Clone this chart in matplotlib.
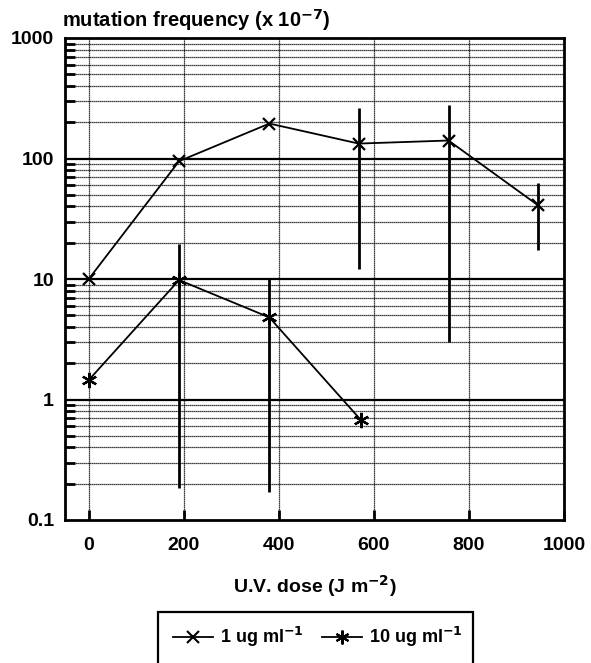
import matplotlib
matplotlib.use("Agg")
import matplotlib.pyplot as plt
from matplotlib.patches import Rectangle
from matplotlib.lines import Line2D
import numpy as np

plt.rcParams['font.family'] = ['Liberation Sans', 'DejaVu Sans']
plt.rcParams['font.weight'] = 'bold'
plt.rcParams['mathtext.default'] = 'bf'

# Series 1: 1 ug ml-1
dose1 = [0, 190, 380, 568, 757, 945]
freq1 = [10, 95, 195, 133, 141, 41]
err1_lo = [None, None, None, 12, 3.0, 17.5]
err1_hi = [None, None, None, 260, 277, 63]

# Series 2: 10 ug ml-1
dose2 = [0, 190, 380, 572]
freq2 = [1.45, 9.8, 4.8, 0.68]
err2_lo = [None, 0.185, 0.17, None]
err2_hi = [None, 19.6, 10, None]

xticks = [0, 200, 400, 600, 800, 1000]
yticks = [0.1, 1, 10, 100, 1000]
ytick_labels = ['0.1', '1', '10', '100', '1000']

fig = plt.figure(figsize=(5.91, 6.63), dpi=100)
ax = fig.add_axes([65/591, 1-520/663, (564-65)/591, (520-38)/663])
ax.set_yscale('log')
ax.set_xlim(-50, 1000)
ax.set_ylim(0.1, 1000)

# grid
for d in [0.1, 1, 10, 100]:
    for m in range(2, 10):
        ax.axhline(d*m, color='black', lw=0.9, ls=(0, (1.0, 0.6)), zorder=1)
for d in [1, 10, 100]:
    ax.axhline(d, color='black', lw=1.6, zorder=1)
for xv in xticks[:-1]:
    ax.axvline(xv, color='black', lw=0.9, ls=(0, (1.0, 0.6)), zorder=1)

# error bars
for x, lo, hi in zip(dose1, err1_lo, err1_hi):
    if lo is not None:
        ax.vlines(x, lo, hi, color='black', lw=2.0, zorder=3)
for x, lo, hi in zip(dose2, err2_lo, err2_hi):
    if lo is not None:
        ax.vlines(x, lo, hi, color='black', lw=2.0, zorder=3)

ast = (6, 2, 0)
ax.plot(dose1, freq1, color='black', lw=1.3, marker='x', ms=9, mew=1.6, zorder=4)
ax.plot(dose2, freq2, color='black', lw=1.3, marker=ast, ms=11, mew=1.6, zorder=4)

ax.set_xticks(xticks)
ax.set_xticklabels([str(v) for v in xticks], fontsize=14, fontweight='bold')
ax.set_yticks(yticks)
ax.set_yticklabels(ytick_labels, fontsize=14, fontweight='bold')
ax.tick_params(axis='both', direction='in', width=2, length=7)
ax.tick_params(axis='x', pad=12)
ax.tick_params(axis='y', which='major', length=0, pad=8)
ax.tick_params(axis='y', which='minor', direction='in', width=2, length=7)
ax.yaxis.set_minor_locator(matplotlib.ticker.LogLocator(base=10, subs=np.arange(2, 10)))
ax.yaxis.set_minor_formatter(matplotlib.ticker.NullFormatter())
ax.tick_params(top=False, right=False)
for s in ax.spines.values():
    s.set_linewidth(2)

ax.set_xlabel('U.V. dose (J m$^{-2}$)', fontsize=14, fontweight='bold', labelpad=14)
fig.text(62/591, 1-20/663, 'mutation frequency (x 10$^{-7}$)', fontsize=14.5,
         fontweight='bold', ha='left', va='center')

# legend box (extends past bottom)
fig.patches.append(Rectangle((158/591, -0.05), (473-158)/591, 0.05 + 1-612/663,
                             transform=fig.transFigure, fill=False, lw=1.6,
                             edgecolor='black'))
h1 = Line2D([], [], color='black', lw=1.3, marker='x', ms=8, mew=1.5)
h2 = Line2D([], [], color='black', lw=1.3, marker=ast, ms=10, mew=1.5)
fig.legend([h1, h2], ['1 ug ml$^{-1}$', '10 ug ml$^{-1}$'], ncol=2, frameon=False,
           loc='center', bbox_to_anchor=(318/591, 1-637/663),
           handlelength=2.2, columnspacing=1.0, handletextpad=0.4,
           prop={'weight': 'bold', 'size': 13})

fig.savefig('out.png', dpi=100)
